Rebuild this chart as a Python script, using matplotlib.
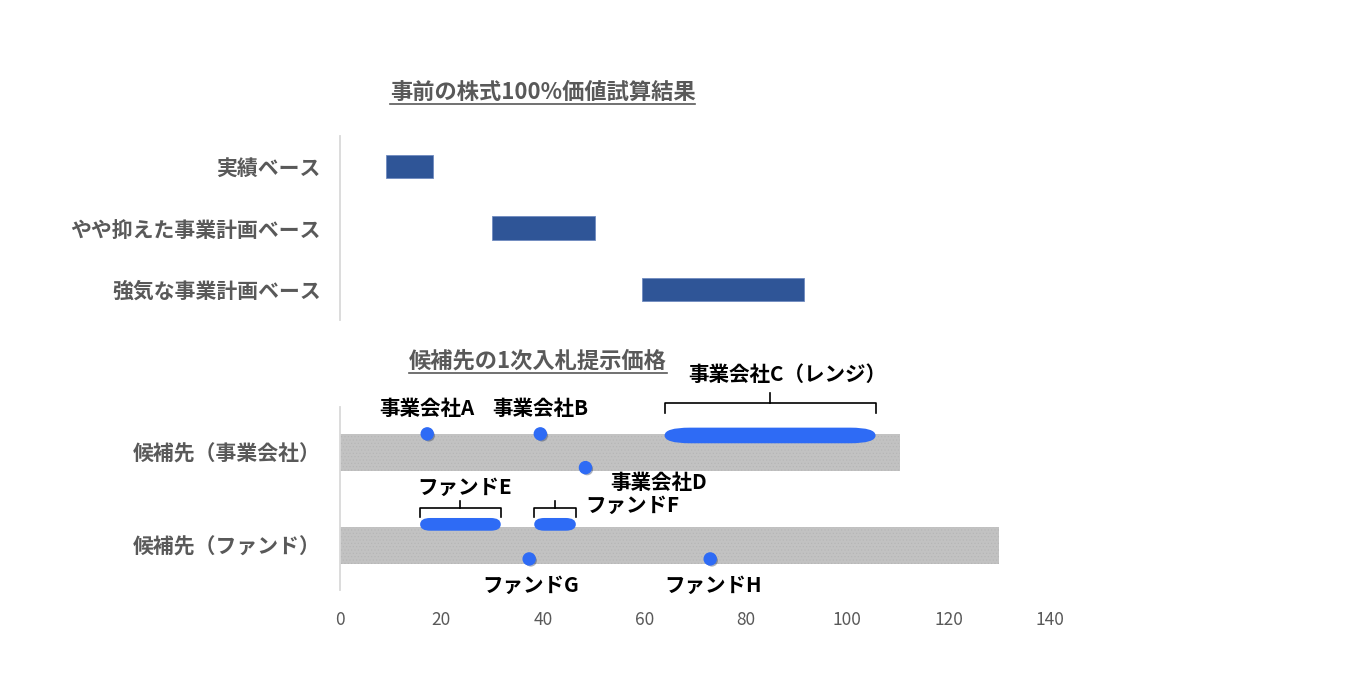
import matplotlib
matplotlib.use('Agg')
import matplotlib.pyplot as plt
from matplotlib.patches import FancyBboxPatch
import matplotlib.patheffects as pe
from matplotlib.lines import Line2D

plt.rcParams['font.family'] = ['Noto Sans CJK JP', 'DejaVu Sans']
plt.rcParams['hatch.linewidth'] = 0.35

# ---------------- data ----------------
top_title = '事前の株式100%価値試算結果'
top_categories = ['実績ベース', 'やや抑えた事業計画ベース', '強気な事業計画ベース']
top_low = [9.0, 30.0, 59.5]
top_high = [18.3, 50.3, 91.5]

bottom_title = '候補先の1次入札提示価格'
bottom_categories = ['候補先（事業会社）', '候補先（ファンド）']
bottom_bg_length = [110.5, 130.0]

point_names = ['事業会社A', '事業会社B', '事業会社D', 'ファンドG', 'ファンドH']
point_values = [17.2, 39.5, 48.4, 37.3, 73.0]
point_group = [0, 0, 0, 1, 1]

range_names = ['事業会社C（レンジ）', 'ファンドE', 'ファンドF']
range_low = [64.0, 15.8, 38.3]
range_high = [105.6, 31.7, 46.5]
range_group = [0, 1, 1]

x_ticks = [0, 20, 40, 60, 80, 100, 120, 140]

# ---------------- styles ----------------
GRAY_TXT = '#595959'
BAR_BLUE = '#2F5597'
PT_BLUE = '#2E6BF5'
BG_GRAY = '#C2C2C2'
AX_LINE = '#D9D9D9'

W, H = 1370, 680
fig = plt.figure(figsize=(W / 100, H / 100), dpi=100)

def px_rect(x0, y0, x1, y1):
    return [x0 / W, 1 - y1 / H, (x1 - x0) / W, (y1 - y0) / H]

ax_top = fig.add_axes(px_rect(340, 136, 1050, 320))
ax_bot = fig.add_axes(px_rect(340, 407, 1050, 590))

for ax in (ax_top, ax_bot):
    ax.set_xlim(0, 140)
    for s in ('top', 'right', 'bottom'):
        ax.spines[s].set_visible(False)
    ax.spines['left'].set_color(AX_LINE)
    ax.spines['left'].set_linewidth(1.3)

# ---- top chart ----
ypos_top = list(range(len(top_categories)))
ax_top.barh(ypos_top, [h - l for l, h in zip(top_low, top_high)], left=top_low,
            height=0.38, color=BAR_BLUE, edgecolor='#6F8BC0', linewidth=0.6)
ax_top.set_ylim(len(top_categories) - 0.5, -0.5)
ax_top.set_yticks(ypos_top)
ax_top.set_yticklabels(top_categories)
ax_top.set_xticks([])
ax_top.tick_params(axis='y', length=0, pad=14, labelsize=15, labelcolor=GRAY_TXT)
for t in ax_top.get_yticklabels():
    t.set_fontweight('bold')

# ---- bottom chart ----
ypos_bot = list(range(len(bottom_categories)))
ax_bot.barh(ypos_bot, bottom_bg_length, height=0.4, color=BG_GRAY,
            edgecolor='#B4B4B4', hatch='.....', linewidth=0)
ax_bot.set_ylim(1.479, -0.489)
ax_bot.set_yticks(ypos_bot)
ax_bot.set_yticklabels(bottom_categories)
ax_bot.set_xticks(x_ticks)
ax_bot.set_xticklabels([str(v) for v in x_ticks])
ax_bot.tick_params(axis='y', length=0, pad=14, labelsize=15, labelcolor=GRAY_TXT)
ax_bot.tick_params(axis='x', length=0, pad=15, labelsize=12.5, labelcolor=GRAY_TXT)
for t in ax_bot.get_yticklabels():
    t.set_fontweight('bold')

PT = 0.72  # points per pixel

# points
point_dy = [-0.20, -0.20, 0.163, 0.145, 0.145]
point_label_off = [(0, 25, 'center'), (0, 25, 'center'), (25, -15, 'left'),
                   (2, -26, 'center'), (3, -26, 'center')]
for name, v, g, dy, (ox, oy, ha) in zip(point_names, point_values, point_group,
                                        point_dy, point_label_off):
    y = g + dy
    ax_bot.scatter([v], [y], s=75, color=PT_BLUE, zorder=5, clip_on=False,
                   path_effects=[pe.SimplePatchShadow(offset=(1.2, -1.2), alpha=0.35),
                                 pe.Normal()])
    ax_bot.annotate(name, xy=(v, y), xytext=(ox * PT, oy * PT), textcoords='offset points',
                    ha=ha, va='center', fontsize=14.8, fontweight='bold', color='black',
                    annotation_clip=False)

# ranges
range_dy = [-0.183, -0.227, -0.227]
range_h = [0.168, 0.137, 0.137]
range_xrad = [5.0, 2.0, 2.0]
brace_gap = [0.346, 0.173, 0.173]
brace_drop = [0.104, 0.097, 0.097]
brace_tick = [0.108, 0.082, 0.082]
range_label_off = [(17, 61.5, 'center', 'mid'), (4.6, 37.4, 'center', 'mid'),
                   (9.3, 19.4, 'left', 'right')]
for i, name in enumerate(range_names):
    lo, hi, g = range_low[i], range_high[i], range_group[i]
    yc = g + range_dy[i]
    h = range_h[i]
    xr = range_xrad[i]
    patch = FancyBboxPatch((lo, yc - h / 2), hi - lo, h,
                           boxstyle=f'round,pad=0,rounding_size={xr}',
                           mutation_aspect=(h / 2) / xr,
                           facecolor=PT_BLUE, edgecolor='none', zorder=4, clip_on=False)
    ax_bot.add_patch(patch)
    # brace
    yl = yc - brace_gap[i]
    ye = yl + brace_drop[i]
    yt = yl - brace_tick[i]
    mid = (lo + hi) / 2
    ax_bot.plot([lo, lo, hi, hi], [ye, yl, yl, ye], color='black', lw=1.2,
                clip_on=False, zorder=6, solid_joinstyle='round')
    ax_bot.plot([mid, mid], [yl, yt], color='black', lw=1.2, clip_on=False, zorder=6)
    ox, oy, ha, anchor = range_label_off[i]
    ax_anchor_x = mid if anchor == 'mid' else hi
    ax_bot.annotate(name, xy=(ax_anchor_x, yc), xytext=(ox * PT, oy * PT),
                    textcoords='offset points', ha=ha, va='center', fontsize=14.8,
                    fontweight='bold', color='black', annotation_clip=False)

# ---- titles with underline ----
def underlined_title(text, cx, cy, uy):
    t = fig.text(cx / W, 1 - cy / H, text, ha='center', va='center', fontsize=16,
                 fontweight='bold', color=GRAY_TXT)
    fig.canvas.draw()
    bb = t.get_window_extent()
    fig.add_artist(Line2D([bb.x0 / W, bb.x1 / W], [1 - uy / H, 1 - uy / H],
                          color=GRAY_TXT, lw=1.2, transform=fig.transFigure))

underlined_title(top_title, 542.5, 92, 104)
underlined_title(bottom_title, 538, 361, 373)

fig.savefig('out.png', dpi=100, facecolor='white')
